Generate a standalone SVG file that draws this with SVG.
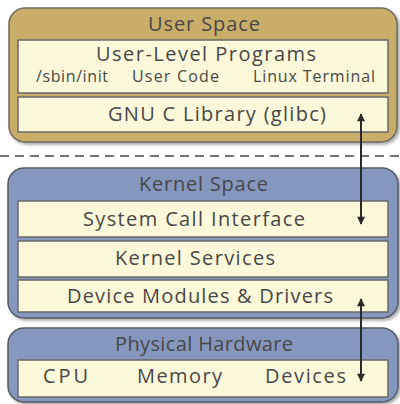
<svg xmlns="http://www.w3.org/2000/svg" width="400" height="404" viewBox="0 0 400 404">
<defs>
<filter id="sh" x="-5%" y="-5%" width="115%" height="120%">
<feGaussianBlur in="SourceAlpha" stdDeviation="1.5"/>
<feOffset dx="1.5" dy="2" result="b"/>
<feComponentTransfer><feFuncA type="linear" slope="0.35"/></feComponentTransfer>
<feMerge><feMergeNode/><feMergeNode in="SourceGraphic"/></feMerge>
</filter>
<marker id="ah" viewBox="0 0 10 10" refX="9" refY="5" markerWidth="9" markerHeight="8" orient="auto-start-reverse" markerUnits="userSpaceOnUse">
<path d="M0,0 L10,5 L0,10 z" fill="#2a2a2a"/>
</marker>
</defs>
<style>
text{font-family:"Open Sans","Liberation Sans",sans-serif;fill:#484848;text-anchor:middle}
.user{fill:#c9ad67;stroke:#6e6a5a;stroke-width:1.5}
.kern{fill:#8597be;stroke:#555a66;stroke-width:1.5}
.inner{fill:#fcf8da;stroke:#6a6a6a;stroke-width:1.5}
.t{font-size:20px}
.s{font-size:16px}
.conn{stroke:#2a2a2a;stroke-width:2;fill:none;marker-start:url(#ah);marker-end:url(#ah)}
</style>
<rect width="400" height="404" fill="#ffffff"/>
<line x1="0" y1="156" x2="400" y2="156" stroke="#444" stroke-width="1.5" stroke-dasharray="9,6"/>
<g id="user-space">
<rect class="user" x="9" y="8" width="388" height="134" rx="16" filter="url(#sh)"/>
<text class="t" x="204" y="31" textLength="112">User Space</text>
</g>
<g id="user-programs">
<rect class="inner" x="18" y="40" width="370" height="53"/>
<text class="t" x="206" y="61" textLength="220">User-Level Programs</text>
<text class="s" x="72" y="82" textLength="72">/sbin/init</text>
<text class="s" x="175.5" y="82" textLength="87">User Code</text>
<text class="s" x="314" y="82" textLength="122">Linux Terminal</text>
</g>
<g id="glibc">
<rect class="inner" x="18" y="97" width="370" height="35"/>
<text class="t" x="217" y="121" textLength="218">GNU C Library (glibc)</text>
</g>
<g id="kernel-space">
<rect class="kern" x="8" y="168" width="390" height="150" rx="16" filter="url(#sh)"/>
<text class="t" x="203.5" y="191" textLength="129">Kernel Space</text>
</g>
<g id="syscall">
<rect class="inner" x="18" y="201" width="370" height="36"/>
<text class="t" x="194" y="226" textLength="222">System Call Interface</text>
</g>
<g id="kernel-services">
<rect class="inner" x="18" y="241" width="370" height="36"/>
<text class="t" x="195" y="265" textLength="160">Kernel Services</text>
</g>
<g id="drivers">
<rect class="inner" x="18" y="280" width="370" height="32"/>
<text class="t" x="200" y="303" textLength="266">Device Modules &amp; Drivers</text>
</g>
<g id="hardware">
<rect class="kern" x="8" y="328" width="390" height="74" rx="16" filter="url(#sh)"/>
<text class="t" x="204" y="351" textLength="178">Physical Hardware</text>
</g>
<g id="hw-items">
<rect class="inner" x="18" y="360" width="370" height="37"/>
<text class="t" x="65.5" y="383" textLength="45">CPU</text>
<text class="t" x="179.5" y="383" textLength="85">Memory</text>
<text class="t" x="305.5" y="383" textLength="81">Devices</text>
</g>
<g id="connectors">
<line class="conn" x1="361" y1="114" x2="361" y2="224"/>
<line class="conn" x1="361" y1="299" x2="361" y2="381"/>
</g>
</svg>
